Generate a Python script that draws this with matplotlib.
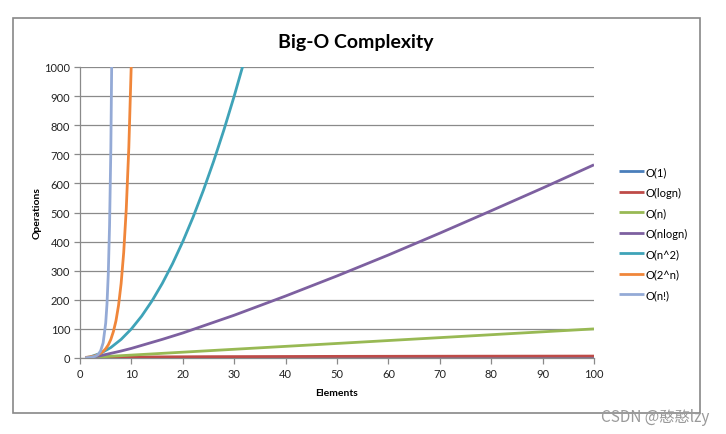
import matplotlib.pyplot as plt
from matplotlib.patches import Rectangle

# values
x_const = [1, 100]
y_const = [1, 1]

x_log = [1, 2, 5, 10, 25, 50, 75, 100]
y_log = [0, 1, 2.3, 3.3, 4.6, 5.6, 6.2, 6.6]

x_lin = [1, 100]
y_lin = [1, 100]

x_nlog = [1, 2, 4, 8, 10, 16, 20, 30, 40, 50, 60, 70, 80, 90, 100]
y_nlog = [0, 2, 8, 24, 33, 64, 86, 147, 213, 282, 354, 429, 506, 584, 664]

x_sq = [1, 2, 4, 6, 8, 10, 12, 14, 16, 18, 20, 22, 24, 26, 28, 30, 32]
y_sq = [1, 4, 16, 36, 64, 100, 144, 196, 256, 324, 400, 484, 576, 676, 784, 900, 1024]

x_exp = [1, 1.5, 2, 2.5, 3, 3.5, 4, 4.5, 5, 5.5, 6, 6.5, 7, 7.5, 8, 8.5, 9, 9.5, 10]
y_exp = [2, 2.8, 4, 5.7, 8, 11.3, 16, 22.6, 32, 45, 64, 91, 128, 181, 256, 362, 512, 724, 1024]

x_fact = [1, 2, 3, 3.5, 4, 4.5, 5, 5.25, 5.5, 5.75, 6, 6.25]
y_fact = [1, 2, 6, 11.6, 24, 52, 120, 185, 288, 455, 720, 1155]

labels = ["O(1)", "O(logn)", "O(n)", "O(nlogn)", "O(n^2)", "O(2^n)", "O(n!)"]
colors = ["#4A7EBB", "#BE4B48", "#98B954", "#7D60A0", "#3FA3B8", "#F0863A", "#94AAD6"]
series = [
    (x_const, y_const),
    (x_log, y_log),
    (x_lin, y_lin),
    (x_nlog, y_nlog),
    (x_sq, y_sq),
    (x_exp, y_exp),
    (x_fact, y_fact),
]

plt.rcParams['font.family'] = ['Lato', 'DejaVu Sans']

fig = plt.figure(figsize=(7.26, 4.35), dpi=100)
ax = fig.add_axes([80 / 726, 76 / 435, 514 / 726, 291 / 435])

for (xs, ys), label, color in zip(series, labels, colors):
    ax.plot(xs, ys, color=color, linewidth=2.0, label=label,
            solid_capstyle='butt', zorder=3)

grid_color = "#8A8A8A"
ax.set_xlim(0, 100)
ax.set_ylim(0, 1000)
ax.set_xticks(range(0, 101, 10))
ax.set_yticks(range(0, 1001, 100))
ax.yaxis.grid(True, color=grid_color, linewidth=0.9, zorder=0)
for side in ("top", "right"):
    ax.spines[side].set_visible(False)
for side in ("left", "bottom"):
    ax.spines[side].set_color(grid_color)
    ax.spines[side].set_linewidth(0.9)
ax.tick_params(axis='both', colors=grid_color, length=4, width=0.9,
               labelsize=8, labelcolor="#222222", pad=3)

ax.set_xlabel("Elements", fontsize=7.5, fontweight='bold', labelpad=7)
ax.set_ylabel("Operations", fontsize=7.5, fontweight='bold', labelpad=2)

fig.text(0.49, 0.902, "Big-O Complexity", ha='center', va='center',
         fontsize=14, fontweight='bold')

fig.legend(loc='center left', bbox_to_anchor=(615 / 726, 1 - 234 / 435),
           frameon=False, fontsize=8, handlelength=2.2, handletextpad=0.1,
           labelspacing=0.85, borderaxespad=0)

fig.patches.append(Rectangle((13 / 726, 1 - 414 / 435), 687 / 726, 395 / 435,
                             transform=fig.transFigure, fill=False,
                             edgecolor="#888888", linewidth=1.2))

fig.text(709 / 726, 1 - 418 / 435, "CSDN @憨憨lzy", ha='right', va='center',
         fontsize=11, color="#9A9A9A",
         family=['Noto Sans CJK SC', 'DejaVu Sans'])

fig.savefig("out.png", dpi=100)
